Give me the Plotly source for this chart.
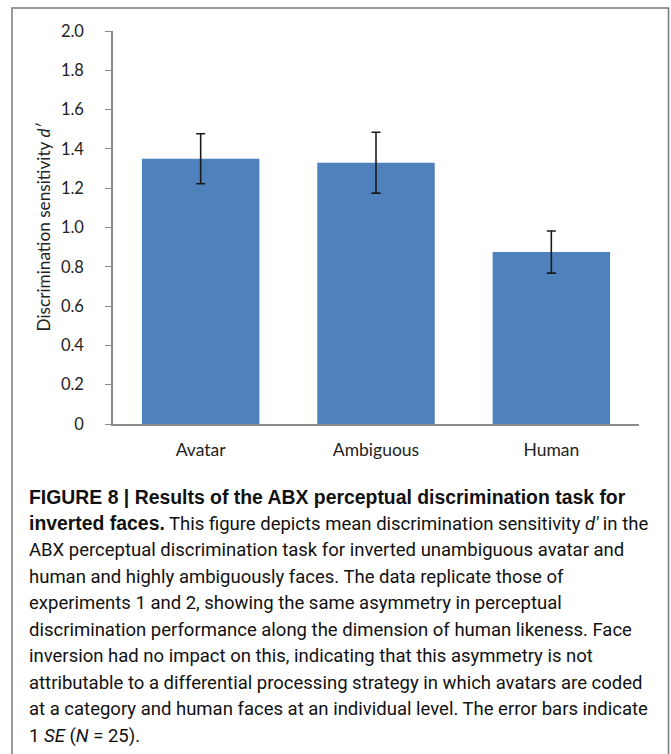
import plotly.graph_objects as go

# Mean discrimination sensitivity d' per face category, with 1 SE
categories = ["Avatar", "Ambiguous", "Human"]
d_prime = [1.35, 1.33, 0.875]
se = [0.127, 0.155, 0.107]

y_tick_vals = [0, 0.2, 0.4, 0.6, 0.8, 1.0, 1.2, 1.4, 1.6, 1.8, 2.0]
y_tick_text = ["0", "0.2", "0.4", "0.6", "0.8", "1.0", "1.2", "1.4", "1.6", "1.8", "2.0"]

BOLD = ('<span style="font-family:\'Liberation Sans\', Arial, sans-serif; '
        'font-weight:bold; font-size:19.4px">')
caption_lines = [
    BOLD + "FIGURE 8 | Results of the ABX perceptual discrimination task for</span>",
    BOLD + "inverted faces.</span> This figure depicts mean discrimination sensitivity <i>d′</i> in the",
    "ABX perceptual discrimination task for inverted unambiguous avatar and",
    "human and highly ambiguously faces. The data replicate those of",
    "experiments 1 and 2, showing the same asymmetry in perceptual",
    "discrimination performance along the dimension of human likeness. Face",
    "inversion had no impact on this, indicating that this asymmetry is not",
    "attributable to a differential processing strategy in which avatars are coded",
    "at a category and human faces at an individual level. The error bars indicate",
    "1 <i>SE</i> (<i>N</i> = 25).",
]

W, H = 671, 754
L, R, T, B = 113, 32, 31, 330
pw, ph = W - L - R, H - T - B


def px(x):
    return (x - L) / pw


def py(y):
    return (H - B - y) / ph


fig = go.Figure(
    go.Bar(
        x=categories,
        y=d_prime,
        marker=dict(color="#4F81BD", line=dict(width=0)),
        error_y=dict(type="data", array=se, color="#1a1a1a", thickness=1.6, width=4.5),
        width=0.67,
    )
)

sans = "Lato, Open Sans, sans-serif"

fig.update_layout(
    width=W,
    height=H,
    margin=dict(l=L, r=R, t=T, b=B),
    paper_bgcolor="white",
    plot_bgcolor="white",
    showlegend=False,
    xaxis=dict(
        showline=True,
        linecolor="#8c8c8c",
        linewidth=1.5,
        ticks="",
        tickfont=dict(family=sans, size=17.5, color="#222"),
        ticklabelstandoff=9,
        showgrid=False,
        fixedrange=True,
    ),
    yaxis=dict(
        range=[0, 2.0],
        tickvals=y_tick_vals,
        ticktext=y_tick_text,
        showline=True,
        linecolor="#8c8c8c",
        linewidth=1.5,
        ticks="outside",
        ticklen=6,
        tickcolor="#8c8c8c",
        tickfont=dict(family=sans, size=16.5, color="#222"),
        ticklabelstandoff=18,
        showgrid=False,
        zeroline=False,
        fixedrange=True,
    ),
)

annotations = [
    dict(
        text="Discrimination sensitivity <i>d′</i>",
        x=px(43),
        y=0.5,
        xref="paper",
        yref="paper",
        textangle=-90,
        showarrow=False,
        font=dict(family=sans, size=17.2, color="#222"),
        xanchor="center",
        yanchor="middle",
    )
]

line_y = [497, 523.5, 550, 576.5, 603, 629.5, 656, 682.5, 709, 735.5]
for text, yy in zip(caption_lines, line_y):
    annotations.append(
        dict(
            text=text,
            x=px(27),
            y=py(yy),
            xref="paper",
            yref="paper",
            showarrow=False,
            xanchor="left",
            yanchor="middle",
            align="left",
            font=dict(family="Roboto, sans-serif", size=18.5, color="#111"),
        )
    )
fig.update_layout(annotations=annotations)

# frame around the figure panel
fig.add_shape(
    type="rect",
    xref="paper",
    yref="paper",
    x0=px(12),
    x1=px(668.5),
    y0=py(770),
    y1=py(8),
    line=dict(color="#7a7a7a", width=1.5),
    fillcolor="rgba(0,0,0,0)",
    layer="above",
)

fig.write_html("out.html")
